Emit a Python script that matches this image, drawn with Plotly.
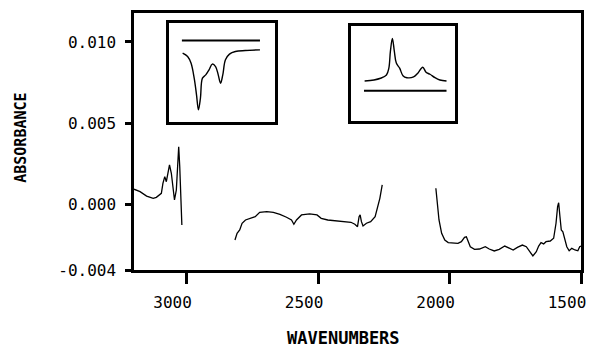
import plotly.graph_objects as go

# ---- main spectrum (three separate segments) ----
wn_1 = [3200, 3177, 3152, 3127, 3115, 3096, 3090, 3083, 3077, 3071, 3065, 3058,
        3052, 3046, 3039, 3033, 3030, 3026, 3023, 3021, 3018]
ab_1 = [0.00096, 0.00081, 0.00054, 0.00040, 0.00046, 0.00071, 0.00132, 0.00173,
        0.00142, 0.00194, 0.00245, 0.00194, 0.00091, 0.00030, 0.00091, 0.00275,
        0.00357, 0.00234, 0.00132, -0.00011, -0.00124]

wn_2 = [2816, 2808, 2798, 2789, 2776, 2757, 2739, 2722, 2695, 2670, 2645, 2620,
        2601, 2592, 2582, 2563, 2532, 2504, 2488, 2463, 2432, 2400, 2375, 2360,
        2350, 2344, 2340, 2335, 2329, 2316, 2300, 2283, 2274, 2265, 2256]
ab_2 = [-0.00216, -0.00175, -0.00154, -0.00113, -0.00093, -0.00083, -0.00073,
        -0.00046, -0.00042, -0.00046, -0.00058, -0.00076, -0.00093, -0.00119,
        -0.00093, -0.00062, -0.00056, -0.00062, -0.00083, -0.00093, -0.00097,
        -0.00103, -0.00107, -0.00119, -0.00134, -0.00073, -0.00062, -0.00103,
        -0.00130, -0.00113, -0.00103, -0.00073, -0.00021, 0.00040, 0.00122]

wn_3 = [2052, 2046, 2040, 2030, 2018, 2005, 1986, 1968, 1955, 1943, 1936, 1930,
        1921, 1905, 1886, 1864, 1849, 1830, 1811, 1790, 1773, 1758, 1742, 1723,
        1708, 1696, 1683, 1670, 1661, 1652, 1642, 1633, 1617, 1604, 1595, 1589,
        1585, 1580, 1575, 1569, 1563, 1554, 1545, 1535, 1523, 1512, 1505, 1500]
ab_3 = [0.00102, 0.00010, -0.00093, -0.00175, -0.00216, -0.00232, -0.00236,
        -0.00236, -0.00226, -0.00199, -0.00196, -0.00226, -0.00257, -0.00273,
        -0.00271, -0.00257, -0.00271, -0.00283, -0.00273, -0.00253, -0.00267,
        -0.00277, -0.00261, -0.00247, -0.00257, -0.00288, -0.00314, -0.00288,
        -0.00253, -0.00232, -0.00240, -0.00226, -0.00222, -0.00205, -0.00113,
        -0.00011, 0.00013, -0.00073, -0.00154, -0.00165, -0.00205, -0.00257,
        -0.00282, -0.00267, -0.00277, -0.00282, -0.00257, -0.00253]

y_ticks = [-0.004, 0.0, 0.005, 0.010]
y_tick_labels = ["-0.004", "0.000", "0.005", "0.010"]
x_ticks = [3000, 2500, 2000, 1500]
x_tick_labels = ["3000", "2500", "2000", "1500"]

# ---- inset 1 (schematic, relative units) ----
in1_x = [13.0, 17.7, 20.9, 23.9, 26.1, 27.9, 29.8, 31.7, 34.8, 37.9, 41.0, 44.1,
         46.6, 48.8, 50.9, 53.4, 57.2, 62.8, 72.1, 86.0]
in1_y = [69.6, 66.2, 59.5, 44.3, 27.4, 12.2, 24.0, 44.3, 47.6, 52.7, 58.5, 56.0,
         47.6, 39.2, 47.6, 62.8, 68.6, 71.2, 72.2, 72.9]
in1_ref_x = [12.3, 86.0]
in1_ref_y = [82.4, 82.4]

# ---- inset 2 (schematic, relative units) ----
in2_x = [13.3, 22.3, 28.6, 34.3, 36.6, 38.1, 40.0, 41.9, 43.8, 47.0, 50.2, 54.0,
         60.4, 64.5, 69.2, 72.4, 76.2, 81.0, 85.7, 92.1]
in2_y = [42.4, 43.5, 45.3, 48.8, 55.9, 73.5, 87.0, 73.5, 61.2, 55.9, 48.0, 45.9,
         46.7, 50.6, 56.9, 51.6, 49.5, 45.9, 43.5, 42.4]
in2_ref_x = [12.7, 92.1]
in2_ref_y = [32.1, 32.1]

line_main = dict(color="black", width=1.3)

fig = go.Figure()
for wx, ay in [(wn_1, ab_1), (wn_2, ab_2), (wn_3, ab_3)]:
    fig.add_trace(go.Scatter(x=wx, y=ay, mode="lines", line=line_main,
                             showlegend=False, hoverinfo="skip"))

fig.add_trace(go.Scatter(x=in1_ref_x, y=in1_ref_y, mode="lines", xaxis="x2", yaxis="y2",
                         line=dict(color="black", width=2), showlegend=False))
fig.add_trace(go.Scatter(x=in1_x, y=in1_y, mode="lines", xaxis="x2", yaxis="y2",
                         line=dict(color="black", width=1.4, shape="spline"), showlegend=False))
fig.add_trace(go.Scatter(x=in2_ref_x, y=in2_ref_y, mode="lines", xaxis="x3", yaxis="y3",
                         line=dict(color="black", width=2), showlegend=False))
fig.add_trace(go.Scatter(x=in2_x, y=in2_y, mode="lines", xaxis="x3", yaxis="y3",
                         line=dict(color="black", width=1.4, shape="spline"), showlegend=False))

tick_font = dict(family="DejaVu Sans Mono", size=16, color="black")

inset_axis = dict(range=[0, 100], showticklabels=False, showgrid=False,
                  zeroline=False, showline=True, mirror=True, linewidth=3,
                  linecolor="black", fixedrange=True)

fig.update_layout(
    width=594, height=357,
    margin=dict(l=134, r=8, t=13, b=87),
    paper_bgcolor="white", plot_bgcolor="white",
    xaxis=dict(range=[3200, 1500], tickmode="array", tickvals=x_ticks, ticktext=x_tick_labels,
               ticks="outside", ticklen=11, tickwidth=2.5, tickcolor="black",
               showgrid=False, zeroline=False, showline=True, mirror=True,
               linewidth=2.5, linecolor="black", tickfont=tick_font,
               ticklabelshift=14, ticklabelstandoff=5),
    yaxis=dict(range=[-0.004, 0.01178], tickmode="array", tickvals=y_ticks, ticktext=y_tick_labels,
               ticks="outside", ticklen=6, tickwidth=2.5, tickcolor="black",
               showgrid=False, zeroline=False, showline=True, mirror=True,
               linewidth=2.5, linecolor="black", tickfont=tick_font,
               ticklabelstandoff=6),
    xaxis2=dict(domain=[0.078, 0.315], anchor="y2", **inset_axis),
    yaxis2=dict(domain=[0.576, 0.961], anchor="x2", **inset_axis),
    xaxis3=dict(domain=[0.485, 0.7175], anchor="y3", **inset_axis),
    yaxis3=dict(domain=[0.578, 0.949], anchor="x3", **inset_axis),
    annotations=[
        dict(text="<b>WAVENUMBERS</b>", xref="paper", yref="paper", x=0.469, y=-0.2646,
             xanchor="center", yanchor="middle", showarrow=False,
             font=dict(family="DejaVu Sans Mono", size=17, color="black")),
        dict(text="<b>ABSORBANCE</b>", xref="paper", yref="paper", x=-0.2522, y=0.5156,
             xanchor="center", yanchor="middle", showarrow=False, textangle=-90,
             font=dict(family="DejaVu Sans Mono", size=15, color="black")),
    ],
)

fig.write_html("out.html")
